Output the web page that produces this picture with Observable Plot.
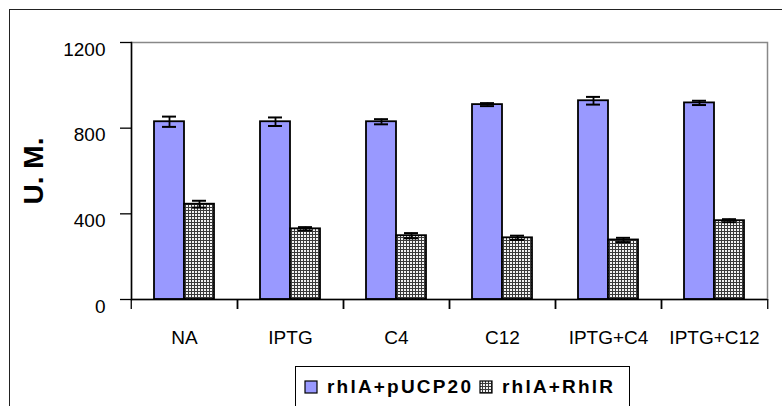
<!DOCTYPE html>
<html>
<head>
<meta charset="utf-8">
<script src="https://cdn.jsdelivr.net/npm/d3@7"></script>
<script src="https://cdn.jsdelivr.net/npm/@observablehq/plot@0.6"></script>
<style>
  html, body { margin: 0; padding: 0; background: #fff; overflow: hidden; width: 782px; height: 406px; }
  #wrap { position: relative; width: 782px; height: 406px; }
  #outer { position: absolute; left: 9px; top: 9px; width: 900px; height: 500px; border: 1.5px solid #222; box-sizing: border-box; }
  #chart { position: absolute; left: 0; top: 0; }
  #legend { position: absolute; left: 295px; top: 366px; width: 335px; height: 60px; border: 1px solid #000; background: #fff; box-sizing: border-box;
            font-family: Arial, "Liberation Sans", sans-serif; font-weight: bold; font-size: 19px; letter-spacing: 2.2px; }
  .item { position: absolute; top: 9px; display: flex; align-items: center; white-space: nowrap; }
  .sw { display: block; margin-right: 9px; }
</style>
</head>
<body>
<svg width="0" height="0" style="position:absolute">
  <defs>
    <pattern id="grid" width="3" height="3" patternUnits="userSpaceOnUse">
      <rect width="3" height="3" fill="#f2f2f2"/>
      <path d="M0 0.5H3M0.5 0V3" stroke="#3a3a3a" stroke-width="1"/>
    </pattern>
  </defs>
</svg>
<div id="wrap">
  <div id="outer"></div>
  <div id="chart"></div>
  <div id="legend"></div>
</div>
<script>
const categories = ["NA", "IPTG", "C4", "C12", "IPTG+C4", "IPTG+C12"];
const seriesNames = ["rhlA+pUCP20", "rhlA+RhlR"];
const pucpValues = [830, 830, 830, 910, 928, 918];
const pucpErrors = [24, 20, 12, 7, 18, 10];
const rhlrValues = [445, 330, 298, 288, 278, 368];
const rhlrErrors = [16, 8, 12, 10, 10, 7];
const yTicks = [0, 400, 800, 1200];
const yLabel = "U. M.";
const seriesColors = ["#9999ff", "url(#grid)"];

const rows = categories.flatMap((c, i) => [
  {cat: c, series: seriesNames[0], value: pucpValues[i], err: pucpErrors[i]},
  {cat: c, series: seriesNames[1], value: rhlrValues[i], err: rhlrErrors[i]}
]);

const chart = Plot.plot({
  width: 782,
  height: 406,
  marginLeft: 129,
  marginRight: 14,
  marginTop: 42,
  marginBottom: 107,
  style: {fontFamily: "Arial, 'Liberation Sans', sans-serif", fontSize: "19px", background: "transparent", overflow: "visible", color: "#000"},
  fx: {domain: categories, padding: 0, label: null},
  x: {domain: seriesNames, paddingInner: 0, paddingOuter: 0.718, axis: null},
  y: {domain: [0, 1200], label: null},
  color: {domain: seriesNames, range: seriesColors},
  marks: [
    Plot.frame({stroke: "#888", strokeWidth: 1.5, facet: "super"}),
    Plot.barY(rows, {fx: "cat", x: "series", y: "value", fill: "series", stroke: "#000", strokeWidth: 1.8}),
    Plot.ruleX(rows, {fx: "cat", x: "series", y1: d => d.value - d.err, y2: d => d.value + d.err, stroke: "#000", strokeWidth: 1.8}),
    Plot.tickY(rows, {fx: "cat", x: "series", y: d => d.value + d.err, insetLeft: 8, insetRight: 8, stroke: "#000", strokeWidth: 2}),
    Plot.tickY(rows, {fx: "cat", x: "series", y: d => d.value - d.err, insetLeft: 8, insetRight: 8, stroke: "#000", strokeWidth: 2}),
    Plot.frame({anchor: "left", stroke: "#000", strokeWidth: 1.5, facet: "super"}),
    Plot.ruleY([0], {stroke: "#000", strokeWidth: 1.5}),
    Plot.axisY({ticks: yTicks, tickSize: 11, tickFormat: () => "", label: null, strokeWidth: 1.3}),
    Plot.axisY({ticks: yTicks, tickSize: 0, tickPadding: 26, dy: 7, label: null, fontSize: 19, tickFormat: d => String(d)}),
    Plot.axisFx({anchor: "bottom", tickSize: 10, tickFormat: () => "", dx: -53.25, label: null, strokeWidth: 1.3}),
    Plot.axisFx({anchor: "bottom", tickSize: 10, tickFormat: () => "", dx: 53.25, label: null, strokeWidth: 1.3}),
    Plot.axisFx({anchor: "bottom", tickSize: 0, tickPadding: 31, label: null, fontSize: 19}),
    Plot.text([yLabel], {frameAnchor: "left", textAnchor: "middle", rotate: -90, dx: -97, dy: 0, fontSize: 28, fontWeight: "bold", facet: "super"})
  ]
});
document.getElementById("chart").appendChild(chart);

const legend = document.getElementById("legend");
const legendX = [8, 183];
const svgNS = "http://www.w3.org/2000/svg";
seriesNames.forEach((name, i) => {
  const item = document.createElement("div");
  item.className = "item";
  item.style.left = legendX[i] + "px";
  const sw = document.createElementNS(svgNS, "svg");
  sw.setAttribute("width", 14);
  sw.setAttribute("height", 14);
  sw.setAttribute("class", "sw");
  const r = document.createElementNS(svgNS, "rect");
  r.setAttribute("x", 1); r.setAttribute("y", 1);
  r.setAttribute("width", 12); r.setAttribute("height", 12);
  r.setAttribute("fill", seriesColors[i]);
  r.setAttribute("stroke", "#000");
  r.setAttribute("stroke-width", 1.2);
  sw.appendChild(r);
  const t = document.createElement("span");
  t.textContent = name;
  item.appendChild(sw);
  item.appendChild(t);
  legend.appendChild(item);
});
</script>
</body>
</html>
